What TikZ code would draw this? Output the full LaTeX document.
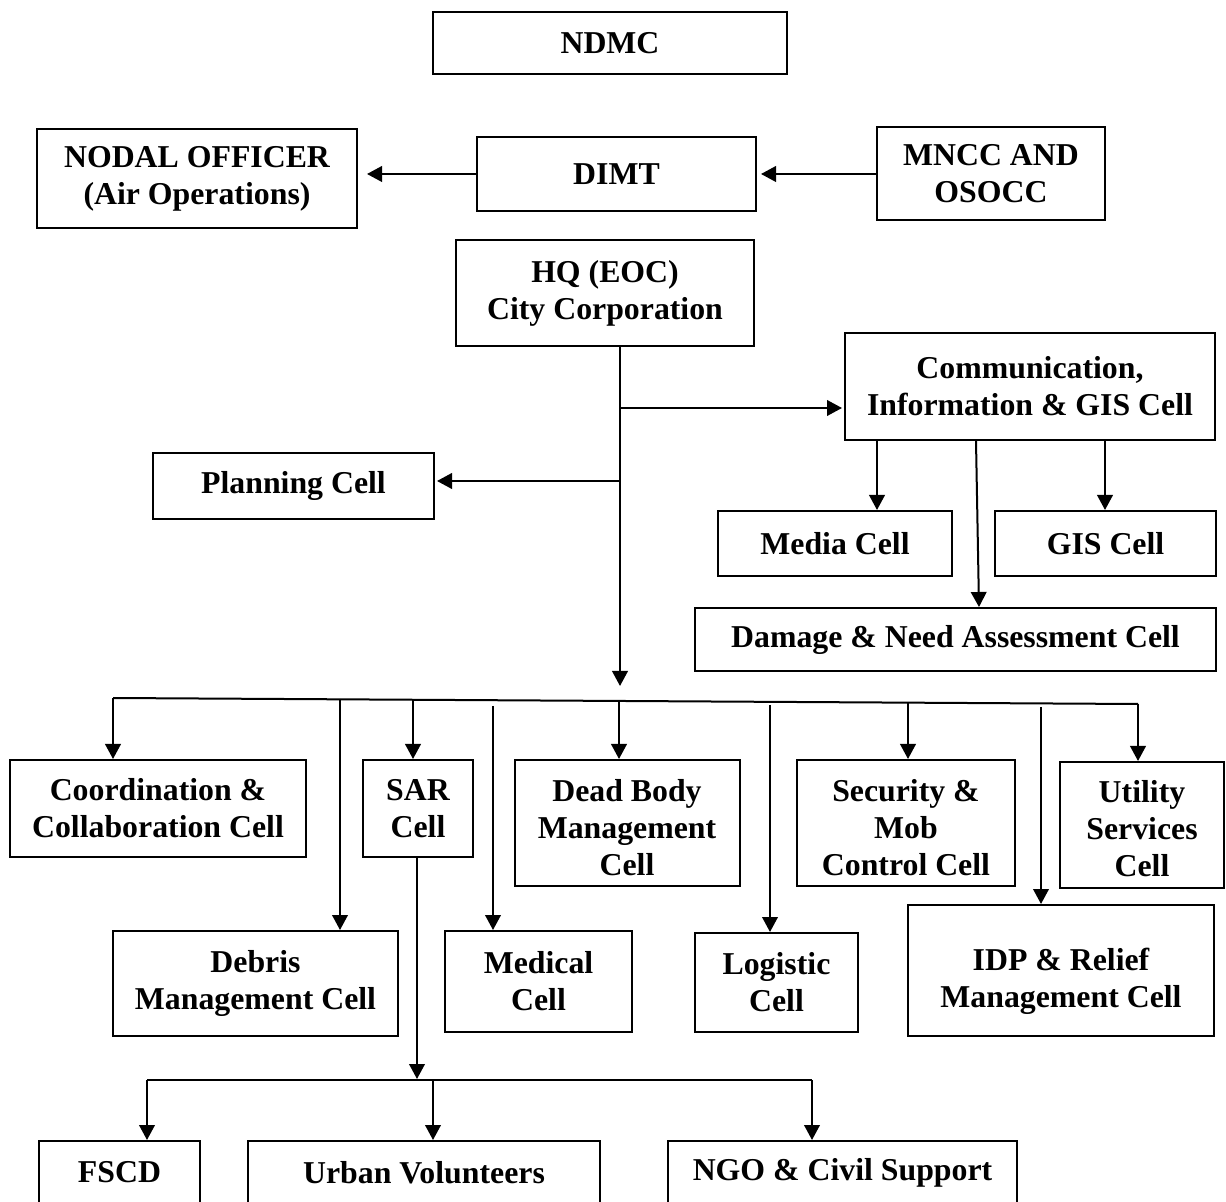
\documentclass[tikz,border=0pt]{standalone}
\usepackage{fontspec}
\setmainfont{Liberation Serif}
\usetikzlibrary{arrows.meta}
\begin{document}
\begin{tikzpicture}[x=0.5pt,y=-0.5pt,
  every node/.style={font=\fontsize{15.9}{18.5}\selectfont\bfseries},
  box/.style={draw, line width=1pt, align=center, inner sep=0pt},
  rect/.style n args={4}{at={({(#1+#3)/2},{(#2+#4)/2})},
    minimum width={(#3-#1)*0.5pt}, minimum height={(#4-#2)*0.5pt}},
  line/.style={line width=1pt},
  arr/.style={line width=1pt, -{Triangle[length=7.5pt,width=7.8pt]}}]
\useasboundingbox (0,0) rectangle (1226,1202);
\clip (0,0) rectangle (1226,1202);

% top level
\node[box, rect={433}{12}{787}{74}] (ndmc) {NDMC};
\node[box, rect={37}{129}{357}{228}] (nodal) {NODAL OFFICER\\(Air Operations)};
\node[box, rect={477}{137}{756}{211}] (dimt) {DIMT};
\node[box, rect={877}{127}{1105}{220}] (mncc) {MNCC AND\\OSOCC};
\node[box, rect={456}{240}{754}{346}] (hq) {HQ (EOC)\\City Corporation};

% communication branch
\node[box, rect={845}{333}{1215}{440}] (comm) {Communication,\\Information \& GIS Cell};
\node[box, rect={153}{453}{434}{519}] (plan) {Planning Cell};
\node[box, rect={718}{511}{952}{576}] (media) {Media Cell};
\node[box, rect={995}{511}{1216}{576}] (gis) {GIS Cell};
\node[box, rect={695}{608}{1216}{671}] (dna) {Damage \& Need Assessment Cell};

% cells, first row
\node[box, rect={10}{760}{306}{857}] (coord) {Coordination \&\\Collaboration Cell};
\node[box, rect={363}{760}{473}{857}] (sar) {SAR\\Cell};
\node[box, rect={515}{760}{740}{886}] (dead) {};
\node[align=center] (deadtext) at (627,828) {Dead Body\\Management\\Cell};
\node[box, rect={797}{760}{1015}{886}] (sec) {};
\node[align=center] (sectext) at (906,828) {Security \&\\Mob\\Control Cell};
\node[box, rect={1060}{762}{1224}{888}] (util) {};
\node[align=center] (utiltext) at (1142,829) {Utility\\Services\\Cell};

% cells, second row
\node[box, rect={113}{931}{398}{1036}] (debris) {Debris\\Management Cell};
\node[box, rect={445}{931}{632}{1032}] (med) {Medical\\Cell};
\node[box, rect={695}{933}{858}{1032}] (logi) {Logistic\\Cell};
\node[box, rect={908}{905}{1214}{1036}] (idp) {};
\node[align=center] (idptext) at (1061,981) {IDP \& Relief\\Management Cell};

% SAR support units
\node[box, rect={39}{1141}{200}{1204}] (fscd) {FSCD};
\node[box, rect={248}{1141}{600}{1204}] (urban) {Urban Volunteers};
\node[box, rect={668}{1141}{1017}{1204}] (ngo) {NGO \& Civil Support};

% top connectors
\draw[arr] (dimt.west) -- ([xshift=4.5pt]dimt.west -| nodal.east);
\draw[arr] (mncc.west |- dimt.west) -- ([xshift=2pt]dimt.east);

% trunk from HQ
\coordinate (busin) at (620,686);
\draw[arr] (hq.south -| busin) -- (busin);
\draw[arr] (620,408) -- ([xshift=-1pt]comm.west |- 0,408);
\draw[arr] (620,481) -- ([xshift=1pt]plan.east |- 0,481);

% communication sub-cells
\draw[arr] (comm.south -| 877,0) -- (media.north -| 877,0);
\draw[arr] (comm.south -| 1105,0) -- (gis.north -| 1105,0);
\draw[arr] (comm.south -| 976,0) -- (dna.north -| 979,0);

% distribution bus
\coordinate (busL) at (113,698);
\coordinate (busR) at (1138,704);
\draw[line] (busL) -- (busR);
\draw[arr] (busL) -- (coord.north -| busL);
\draw[arr] (busR) -- (util.north -| busR);
\draw[arr] (340,699) -- (debris.north -| 340,0);
\draw[arr] (413,700) -- (sar.north -| 413,0);
\draw[arr] (493,706) -- (med.north -| 493,0);
\draw[arr] (619,702) -- (dead.north -| 619,0);
\draw[arr] (770,705) -- (logi.north -| 770,0);
\draw[arr] (908,703) -- (sec.north -| 908,0);
\draw[arr] (1041,707) -- (idp.north -| 1041,0);

% SAR to support units
\coordinate (sarbus) at (417,1079);
\draw[arr] (sar.south -| sarbus) -- (sarbus);
\draw[line] (147,1080) -- (812,1080);
\draw[arr] (147,1080) -- (fscd.north -| 147,0);
\draw[arr] (433,1080) -- (urban.north -| 433,0);
\draw[arr] (812,1080) -- (ngo.north -| 812,0);
\end{tikzpicture}
\end{document}
